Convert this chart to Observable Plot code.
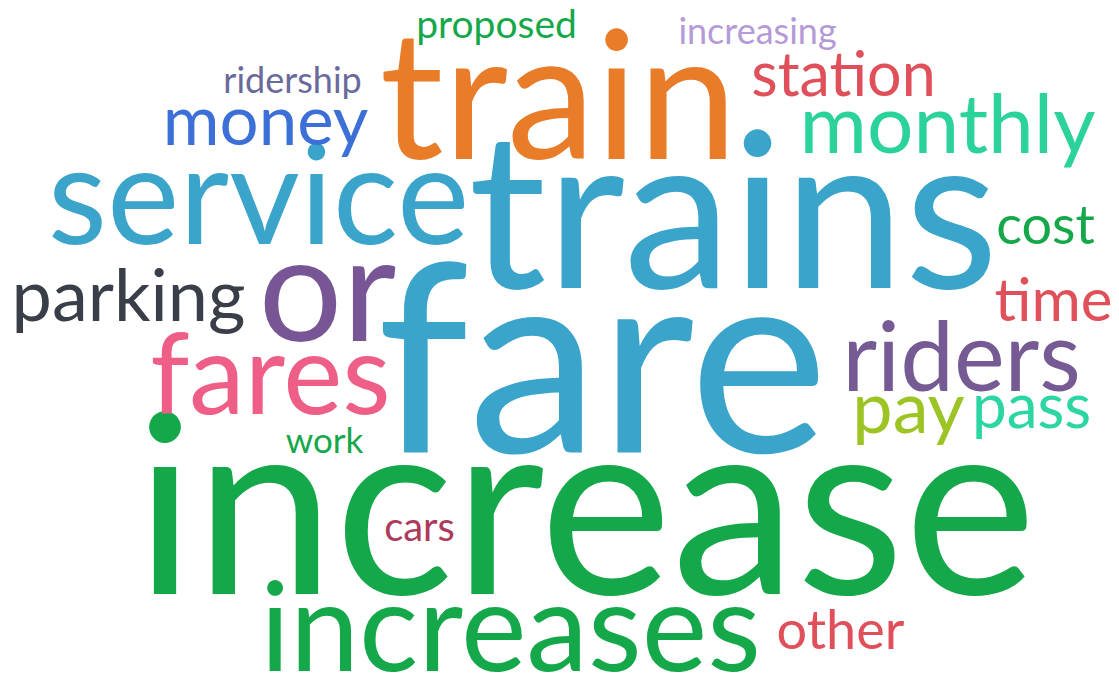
<!DOCTYPE html>
<html>
<head>
<meta charset="utf-8">
<script src="https://cdn.jsdelivr.net/npm/d3@7"></script>
<script src="https://cdn.jsdelivr.net/npm/@observablehq/plot@0.6"></script>
<style>
  html, body { margin: 0; padding: 0; background: #ffffff; }
  #chart svg { display: block; }
</style>
</head>
<body>
<div id="chart"></div>
<script>
const words = ["increase","fare","trains","train","service","increases","or","riders","fares","monthly","money","parking","station","pay","pass","cost","time","other","cars","work","proposed","increasing","ridership"];
const weights = [250,263,217,178,137,124,148,96,112,82,69,72,61,72,62,54,60,54,40,35,39,36,36];
const xs = [585,602,733,558,258,510,327,961,270,947,265,128,843,908,1031,1045,1053,840,419,324,496,757,292];
const ys = [593,452,287,158,243,670,340,390,413,152,144,320,95,432,427,243,320,648,540,452,37,43,92];
const colors = ["#15a84a","#3aa4ca","#3aa4ca","#e97c28","#3aa4ca","#15a84a","#785594","#765a94","#ee5e86","#2bd39b","#3c6fd8","#393e48","#e0505b","#9bc424","#2bd6a2","#15a84a","#e0505b","#e0505b","#ad3a5a","#15a84a","#15a84a","#b59ad8","#6a6a9c"];

const data = words.map((w, i) => ({word: w, size: weights[i], x: xs[i], y: ys[i], color: colors[i]}));

const chart = Plot.plot({
  width: 1119,
  height: 679,
  margin: 0,
  x: {domain: [0, 1119], range: [0, 1119], axis: null},
  y: {domain: [0, 679], range: [0, 679], axis: null},
  color: {type: "identity"},
  style: {background: "#ffffff"},
  marks: [
    Plot.text(data, {
      x: "x", y: "y", text: "word",
      fontSize: "size",
      fill: "color",
      textAnchor: "middle",
      lineAnchor: "bottom",
      fontFamily: "Lato, 'Open Sans', sans-serif"
    })
  ]
});
document.getElementById("chart").appendChild(chart);
</script>
</body>
</html>
